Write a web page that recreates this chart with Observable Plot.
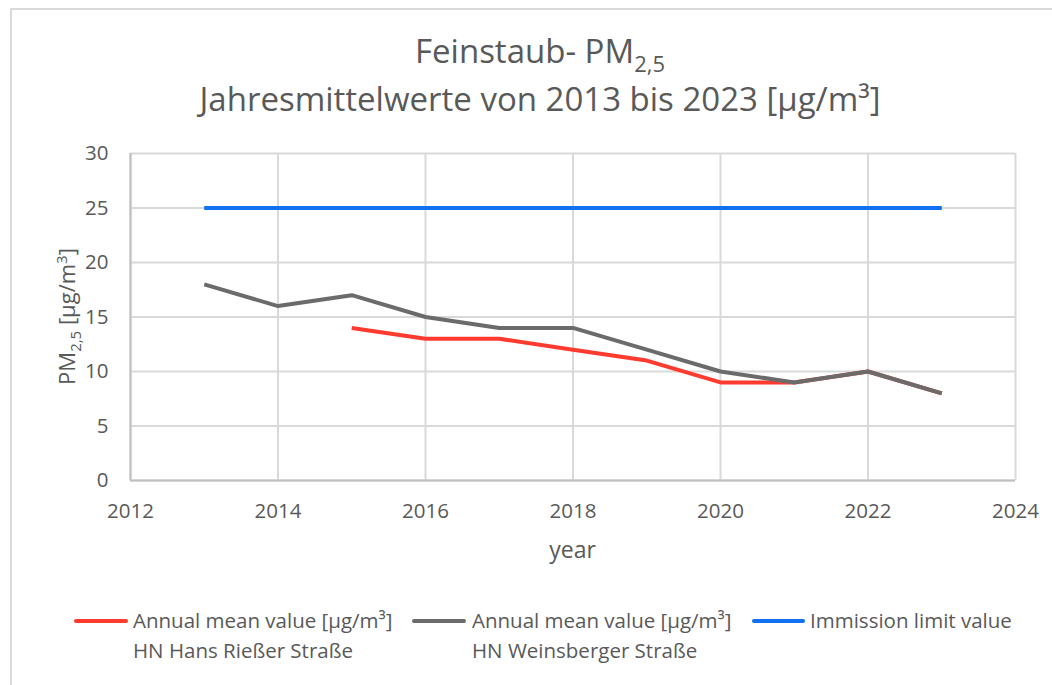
<!DOCTYPE html>
<html>
<head>
<meta charset="utf-8">
<script src="https://cdn.jsdelivr.net/npm/d3@7"></script>
<script src="https://cdn.jsdelivr.net/npm/@observablehq/plot@0.6"></script>
<style>
  html, body { margin: 0; padding: 0; background: #fff; }
  #wrap { position: relative; width: 1052px; height: 685px; overflow: hidden; font-family: "Open Sans", sans-serif; color: #595959; }
  #border { position: absolute; left: 10px; top: 8px; width: 1100px; height: 720px; border: 2px solid #d9d9d9; box-sizing: border-box; }
  .title { position: absolute; left: 0; width: 1080px; text-align: center; font-size: 33px; line-height: 44px; color: #595959; white-space: nowrap; }
  #chart { position: absolute; left: 0; top: 130px; }
  .leg { position: absolute; font-size: 20.5px; line-height: 30px; color: #595959; white-space: nowrap; }
  .sw { position: absolute; height: 4px; border-radius: 2px; }
</style>
</head>
<body>
<div id="wrap">
  <div id="border"></div>
  <div class="title" style="top:29px;">Feinstaub- PM<sub style="font-size:22px;vertical-align:-9px;line-height:0;">2,5</sub></div>
  <div class="title" style="top:77px;">Jahresmittelwerte von 2013 bis 2023 [µg/m³]</div>
  <div id="chart"></div>
  <div id="legend"></div>
</div>
<script>
const years = [2013, 2014, 2015, 2016, 2017, 2018, 2019, 2020, 2021, 2022, 2023];
const hansRiesser = [null, null, 14, 13, 13, 12, 11, 9, 9, 10, 8];
const weinsberger = [18, 16, 17, 15, 14, 14, 12, 10, 9, 10, 8];
const limitValue = [25, 25, 25, 25, 25, 25, 25, 25, 25, 25, 25];
const seriesNames = [
  "Annual mean value [µg/m³] HN Hans Rießer Straße",
  "Annual mean value [µg/m³] HN Weinsberger Straße",
  "Immission limit value"
];
const seriesLabels = [
  ["Annual mean value [µg/m³]", "HN Hans Rießer Straße"],
  ["Annual mean value [µg/m³]", "HN Weinsberger Straße"],
  ["Immission limit value"]
];
const seriesColors = ["#ff3b30", "#6b6b6b", "#1170ee"];
const xTicks = [2012, 2014, 2016, 2018, 2020, 2022, 2024];
const yTicks = [0, 5, 10, 15, 20, 25, 30];

const seriesValues = [hansRiesser, weinsberger, limitValue];
const rows = [];
seriesValues.forEach((vals, i) => {
  years.forEach((y, j) => {
    if (vals[j] != null) rows.push({year: y, value: vals[j], series: seriesNames[i]});
  });
});

const W = 1052, H = 450;
const plot = Plot.plot({
  width: W,
  height: H,
  marginLeft: 130,
  marginRight: 37,
  marginTop: 23,
  marginBottom: 100,
  style: {fontFamily: "Open Sans, sans-serif", fontSize: "20.5px", color: "#595959", background: "transparent"},
  x: {domain: [2012, 2024]},
  y: {domain: [0, 30]},
  color: {domain: seriesNames, range: seriesColors},
  marks: [
    Plot.gridX(xTicks, {stroke: "#d9d9d9", strokeOpacity: 1, strokeWidth: 2}),
    Plot.gridY(yTicks, {stroke: "#d9d9d9", strokeOpacity: 1, strokeWidth: 2}),
    Plot.ruleX([2012], {stroke: "#bfbfbf", strokeWidth: 2}),
    Plot.ruleY([0], {stroke: "#bfbfbf", strokeWidth: 2}),
    Plot.axisX(xTicks, {tickSize: 0, tickPadding: 23, tickFormat: d => String(d), label: null, fontSize: 20.5}),
    Plot.axisY(yTicks, {tickSize: 0, tickPadding: 22, label: null, fontSize: 20.5}),
    Plot.line(rows, {x: "year", y: "value", z: "series", stroke: "series", strokeWidth: 4, strokeLinejoin: "round", strokeLinecap: "butt"})
  ]
});
document.getElementById("chart").appendChild(plot);

// axis titles
const svg = d3.select(plot);
svg.append("text")
  .attr("x", (130 + (W - 37)) / 2)
  .attr("y", 428)
  .attr("text-anchor", "middle")
  .attr("fill", "#595959")
  .attr("font-size", 23)
  .text("year");
const yl = svg.append("text")
  .attr("transform", `translate(75, ${(23 + (H - 100)) / 2}) rotate(-90)`)
  .attr("text-anchor", "middle")
  .attr("fill", "#595959")
  .attr("font-size", 22);
yl.append("tspan").text("PM");
yl.append("tspan").attr("font-size", 15).attr("dy", 6).text("2,5");
yl.append("tspan").attr("dy", -6).text(" [µg/m");
yl.append("tspan").attr("font-size", 15).attr("dy", -8).text("3");
yl.append("tspan").attr("dy", 8).text("]");

// legend
const legendPos = [
  {x1: 74, x2: 128, tx: 133},
  {x1: 412, x2: 466, tx: 472},
  {x1: 752, x2: 805, tx: 810}
];
const legend = document.getElementById("legend");
seriesNames.forEach((name, i) => {
  const p = legendPos[i];
  const sw = document.createElement("div");
  sw.className = "sw";
  sw.style.left = p.x1 + "px";
  sw.style.width = (p.x2 - p.x1) + "px";
  sw.style.top = "619px";
  sw.style.background = seriesColors[i];
  legend.appendChild(sw);
  const t = document.createElement("div");
  t.className = "leg";
  t.style.left = p.tx + "px";
  t.style.top = "605px";
  t.innerHTML = seriesLabels[i].join("<br>");
  legend.appendChild(t);
});
</script>
</body>
</html>
